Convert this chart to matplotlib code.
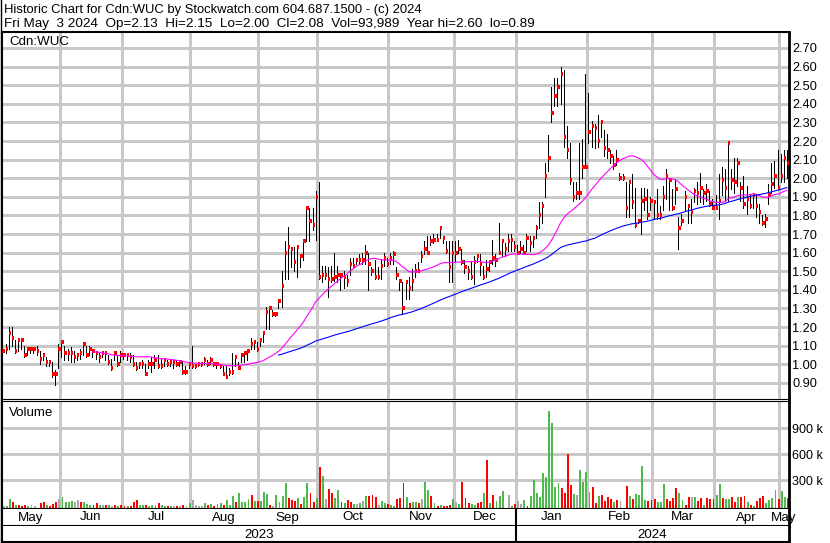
import numpy as np
import pandas as pd
import matplotlib
matplotlib.use("Agg")
import matplotlib.pyplot as plt
from matplotlib.lines import Line2D

plt.rcParams['font.family'] = ['Liberation Sans', 'DejaVu Sans']

# daily bars (May 2023 - May 2024)
high = [1.09, 1.11, 1.20, 1.20, 1.13, 1.13, 1.13, 1.10, 1.09, 1.09, 1.08, 1.10, 1.07, 1.06, 1.04, 1.02, 1.01, 0.97,
        1.11, 1.13, 1.10, 1.08, 1.09, 1.07, 1.06, 1.08, 1.11, 1.10, 1.10, 1.08, 1.07, 1.06, 1.07, 1.06, 1.05, 1.03, 1.06, 1.05, 1.07,
        1.06, 1.06, 1.06, 1.05, 1.01, 1.01, 1.02, 1.00, 1.02, 1.04, 1.05, 1.05, 1.03, 1.03, 1.02, 1.02, 1.02, 1.02, 1.01, 1.01, 0.99,
        1.01, 1.10, 1.00, 1.01, 1.01, 1.04, 1.02, 1.04, 1.01, 1.01, 1.00,
        0.99, 0.99, 0.98, 1.06, 1.05, 1.01, 1.06, 1.07, 1.08, 1.14, 1.13, 1.12, 1.14, 1.18, 1.31, 1.31, 1.29, 1.28, 1.35, 1.50,
        1.66, 1.74, 1.63, 1.63, 1.64, 1.59, 1.67, 1.85, 1.84, 1.84, 1.93,
        1.98, 1.53, 1.53, 1.52, 1.53, 1.60, 1.53, 1.49, 1.50, 1.48, 1.57, 1.57, 1.57, 1.59, 1.60, 1.64, 1.60, 1.52, 1.56, 1.52,
        1.56, 1.60, 1.57, 1.60, 1.61, 1.52, 1.46, 1.44, 1.44, 1.47, 1.51, 1.54, 1.55, 1.61, 1.66, 1.69, 1.69, 1.70, 1.70, 1.74,
        1.69, 1.66, 1.66, 1.66, 1.66, 1.67, 1.62, 1.56, 1.53, 1.55, 1.58, 1.59, 1.59, 1.53, 1.56, 1.56, 1.67, 1.59, 1.76,
        1.67, 1.65, 1.70, 1.70, 1.66, 1.64, 1.66, 1.64, 1.70, 1.69, 1.69, 1.75, 1.87, 1.87, 2.08, 2.23, 2.49, 2.54, 2.54, 2.60,
        2.58, 2.28, 2.19, 1.98, 1.98, 2.19, 2.21, 2.56, 2.46, 2.31, 2.29, 2.34, 2.31, 2.26, 2.24, 2.15, 2.12, 2.15, 2.03, 2.02,
        1.98, 1.99, 2.02, 1.95, 1.78, 1.95, 1.95, 1.94, 1.90, 1.87, 1.94, 1.85, 1.96, 2.05, 2.00, 1.94, 1.99, 1.79, 1.81, 1.93,
        1.86, 1.89, 1.95, 1.98, 2.03, 1.94, 1.97, 1.93, 1.89, 1.91, 2.02, 2.06, 2.05, 2.19, 2.05, 2.11, 2.11, 1.98, 2.01, 1.96,
        1.91, 1.92, 1.91, 1.86, 1.80, 1.81, 1.97, 2.08, 2.09, 2.15, 2.13, 2.15, 2.15]

low = [1.04, 1.06, 1.08, 1.10, 1.06, 1.07, 1.08, 1.04, 1.05, 1.06, 1.06, 1.05, 1.00, 1.02, 0.99, 0.99, 0.93, 0.89,
       0.98, 1.04, 1.02, 1.02, 1.01, 1.01, 1.02, 1.03, 1.05, 1.04, 1.05, 1.04, 1.03, 1.01, 1.04, 1.02, 1.00, 0.97, 1.02, 0.99, 1.01,
       1.03, 1.02, 1.01, 0.99, 0.97, 0.98, 0.98, 0.95, 0.98, 0.96, 0.98, 0.98, 0.98, 0.99, 0.99, 0.99, 0.98, 0.99, 0.99, 0.95, 0.95,
       0.98, 0.98, 0.98, 0.99, 0.99, 1.00, 0.99, 1.00, 0.99, 0.98, 0.98,
       0.94, 0.93, 0.94, 0.95, 0.99, 0.98, 1.01, 1.01, 1.02, 1.08, 1.08, 1.07, 1.10, 1.12, 1.19, 1.19, 1.26, 1.26, 1.30, 1.31,
       1.46, 1.46, 1.52, 1.50, 1.47, 1.52, 1.56, 1.66, 1.66, 1.72, 1.67,
       1.46, 1.44, 1.46, 1.36, 1.44, 1.45, 1.44, 1.40, 1.41, 1.42, 1.48, 1.53, 1.54, 1.54, 1.54, 1.54, 1.40, 1.48, 1.46, 1.46,
       1.46, 1.53, 1.53, 1.54, 1.54, 1.46, 1.40, 1.27, 1.35, 1.35, 1.40, 1.47, 1.50, 1.55, 1.59, 1.60, 1.64, 1.65, 1.66, 1.68,
       1.65, 1.60, 1.44, 1.44, 1.55, 1.60, 1.54, 1.49, 1.46, 1.46, 1.43, 1.55, 1.48, 1.46, 1.47, 1.50, 1.54, 1.53, 1.59,
       1.58, 1.58, 1.61, 1.61, 1.61, 1.59, 1.60, 1.59, 1.61, 1.61, 1.63, 1.68, 1.73, 1.76, 1.90, 2.04, 2.30, 2.39, 2.39, 2.40,
       2.17, 2.11, 1.97, 1.88, 1.89, 1.89, 2.00, 2.06, 2.19, 2.17, 2.16, 2.17, 2.22, 2.12, 2.11, 2.08, 2.05, 2.07, 1.99, 1.99,
       1.79, 1.79, 1.84, 1.74, 1.76, 1.70, 1.83, 1.78, 1.83, 1.78, 1.78, 1.78, 1.83, 1.89, 1.83, 1.83, 1.86, 1.62, 1.75, 1.83,
       1.76, 1.76, 1.87, 1.86, 1.87, 1.86, 1.88, 1.85, 1.84, 1.84, 1.78, 1.91, 1.88, 1.88, 1.94, 1.92, 1.96, 1.88, 1.84, 1.81,
       1.84, 1.84, 1.79, 1.76, 1.75, 1.74, 1.86, 1.92, 1.95, 1.94, 1.98, 1.98, 2.00]

close = [1.07, 1.08, 1.17, 1.14, 1.07, 1.13, 1.13, 1.05, 1.08, 1.08, 1.08, 1.07, 1.03, 1.05, 1.01, 1.01, 0.95, 0.95,
         1.08, 1.12, 1.06, 1.06, 1.06, 1.04, 1.05, 1.06, 1.11, 1.05, 1.08, 1.07, 1.06, 1.04, 1.06, 1.06, 1.01, 0.98, 1.06, 1.00, 1.05,
         1.05, 1.05, 1.04, 1.00, 0.98, 1.00, 1.00, 0.95, 1.00, 1.00, 1.02, 0.99, 0.99, 1.02, 1.00, 1.01, 1.01, 1.00, 1.01, 0.96, 0.96,
         1.00, 0.99, 0.99, 1.00, 1.00, 1.02, 1.00, 1.02, 1.00, 1.00, 0.99,
         0.95, 0.93, 0.96, 0.96, 1.04, 0.98, 1.05, 1.06, 1.07, 1.11, 1.12, 1.08, 1.13, 1.17, 1.28, 1.30, 1.27, 1.27, 1.34, 1.42,
         1.60, 1.63, 1.62, 1.55, 1.63, 1.58, 1.66, 1.84, 1.77, 1.75, 1.90,
         1.47, 1.48, 1.48, 1.46, 1.46, 1.47, 1.48, 1.48, 1.47, 1.45, 1.54, 1.53, 1.56, 1.56, 1.56, 1.60, 1.54, 1.50, 1.47, 1.47,
         1.53, 1.57, 1.54, 1.57, 1.59, 1.48, 1.45, 1.30, 1.44, 1.41, 1.45, 1.50, 1.50, 1.58, 1.62, 1.60, 1.66, 1.67, 1.67, 1.73,
         1.68, 1.61, 1.52, 1.60, 1.60, 1.62, 1.55, 1.52, 1.50, 1.47, 1.55, 1.58, 1.54, 1.47, 1.51, 1.55, 1.57, 1.56, 1.60,
         1.66, 1.62, 1.66, 1.67, 1.63, 1.60, 1.62, 1.60, 1.68, 1.65, 1.68, 1.73, 1.80, 1.85, 2.01, 2.11, 2.35, 2.44, 2.49, 2.56,
         2.22, 2.15, 1.99, 1.90, 1.92, 1.92, 2.06, 2.06, 2.25, 2.28, 2.27, 2.20, 2.30, 2.16, 2.15, 2.12, 2.07, 2.10, 2.00, 2.00,
         1.84, 1.98, 1.87, 1.75, 1.77, 1.88, 1.89, 1.80, 1.88, 1.87, 1.80, 1.80, 1.90, 2.01, 1.99, 1.84, 1.94, 1.73, 1.77, 1.90,
         1.85, 1.82, 1.93, 1.92, 1.95, 1.92, 1.93, 1.86, 1.84, 1.84, 1.88, 1.99, 1.95, 2.19, 1.99, 1.98, 2.08, 1.95, 1.86, 1.89,
         1.85, 1.91, 1.85, 1.82, 1.76, 1.78, 1.91, 1.97, 2.01, 1.95, 2.01, 2.11, 2.08]

# volume in thousands of shares, and bar colour (g up, r down, k unchanged)
volume_k = [8, 4, 89, 46, 19, 19, 4, 19, 4, 19, 4, 0, 39, 54, 12, 4, 31, 46, 89, 112,
            54, 46, 66, 46, 77, 46, 50, 27, 19, 19, 43, 12, 19, 12, 19, 4, 19, 4, 19, 4,
            8, 4, 50, 77, 19, 12, 19, 4, 12, 12, 39, 12, 4, 4, 8, 8, 8, 4, 19, 8,
            39, 77, 19, 8, 4, 39, 19, 31, 4, 27, 39, 19, 70, 19, 124, 54, 159, 54, 54, 89,
            135, 66, 58, 66, 170, 147, 19, 4, 135, 54, 124, 275, 93, 70, 66, 97, 31, 112, 275, 159,
            54, 101, 453, 356, 89, 205, 159, 101, 194, 54, 43, 77, 54, 31, 31, 43, 66, 124, 124, 135,
            112, 19, 66, 43, 31, 19, 8, 89, 101, 275, 112, 43, 54, 54, 43,
            89, 286, 194, 124, 43, 4, 19, 8, 4, 19, 89, 54, 31, 286, 101, 43, 31, 19, 43, 54,
            159, 542, 43, 135, 66, 124, 182, 0, 135, 8, 31, 66, 31, 77, 4, 124, 310, 159, 112, 391,
            344, 1099, 960, 228, 275, 217, 159, 600, 252, 147, 135, 426, 286, 402, 170, 228, 43, 124, 135, 66,
            112, 89, 54, 77, 66, 0, 240, 124, 89, 147, 135, 472, 77, 66, 77, 89, 54, 54, 263, 89,
            66, 101, 217, 159, 77, 19, 112, 112, 112, 66, 101, 19, 101, 89, 89, 135, 263, 101, 89, 89,
            112, 54, 112, 112, 124, 54, 19, 8, 66, 101, 124, 43, 77, 101, 194, 89, 182, 112, 94]

vol_colour = list("kggrgrrrgk" "kkrrgrrrkg" "gggkkrgggr" "rgkrgkrgrr" "grrrggrggg"
                  "rggrgkrkrk" "gkkkkgrgrg" "grgggrgggg" "rgrgggrkgg" "ggrrrgrggr"
                  "rgrgkrrggr" "grrgkgkgrr" "rkggrggrrr" "grggr"
                  "kggrgrgrrr" "gkgrrrggrr" "grgrgggkkg" "rkkgrggggg" "gggggrrrrg"
                  "kggggrrgrr" "rrgrkkrgrg" "gggrrrgggr" "rrrggrrkgr" "rgrrrggrgg"
                  "rrgrrgrgrr" "rggggrggr")

month_names = ['May', 'Jun', 'Jul', 'Aug', 'Sep', 'Oct', 'Nov', 'Dec', 'Jan', 'Feb', 'Mar', 'Apr', 'May']
month_start = [0, 19, 39, 61, 83, 102, 125, 146, 166, 189, 210, 230, 251]   # first bar of each month
year_names = ['2023', '2024']
year_start = [0, 166]
price_ticks = [0.90, 1.00, 1.10, 1.20, 1.30, 1.40, 1.50, 1.60, 1.70, 1.80,
               1.90, 2.00, 2.10, 2.20, 2.30, 2.40, 2.50, 2.60, 2.70]
vol_ticks = [300, 600, 900]
vol_labels = ['300 k', '600 k', '900 k']

W, H = 830, 543
GRID = '#c8c8c8'
fig = plt.figure(figsize=(W / 100, H / 100), dpi=100)


def px_box(x0, y0, x1, y1):                     # pixel box, origin top-left
    return [x0 / W, 1 - y1 / H, (x1 - x0) / W, (y1 - y0) / H]


ax_p = fig.add_axes(px_box(2, 32, 789, 399))
ax_v = fig.add_axes(px_box(2, 401, 789, 509))
ax_m = fig.add_axes(px_box(2, 509, 789, 526))
ax_y = fig.add_axes(px_box(2, 526, 789, 542))

n = len(close)
x = np.arange(n)
xlim = (-0.16, 253.7)
bounds = [s - 0.5 for s in month_start[1:]]

# ---- price panel ----
for t in price_ticks:
    ax_p.axhline(t, color=GRID, lw=0.75, zorder=0, antialiased=False)
for b in bounds:
    ax_p.axvline(b, color=GRID, lw=0.75, zorder=0, antialiased=False)
ax_p.vlines(x, low, high, color='black', lw=0.72, zorder=2, antialiased=False)
ax_p.hlines(close, x, x + 0.8, color='red', lw=1.5, zorder=3, antialiased=False)

cs = pd.Series(close)
ax_p.plot(x, cs.rolling(30).mean(), color='#ff00ff', lw=0.8, zorder=4)
ax_p.plot(x, cs.rolling(90).mean(), color='#0000ff', lw=0.8, zorder=4)

ax_p.set_xlim(xlim)
ax_p.set_ylim(0.813, 2.786)
ax_p.set_xticks([])
ax_p.yaxis.tick_right()
ax_p.set_yticks(price_ticks)
ax_p.set_yticklabels([f'{t:.2f}' for t in price_ticks])
ax_p.tick_params(axis='y', length=0, pad=2.5, labelsize=9.2)
ax_p.text(7 / 787, 1 - 10 / 367, 'Cdn:WUC', transform=ax_p.transAxes,
          ha='left', va='center', fontsize=9.6)

# ---- volume panel ----
vmin = -29
for t in vol_ticks:
    ax_v.axhline(t, color=GRID, lw=0.75, zorder=0, antialiased=False)
for b in bounds:
    ax_v.axvline(b, color=GRID, lw=0.75, zorder=0, antialiased=False)
cmap = {'g': '#4cbb4c', 'r': '#ff0000', 'k': '#a8a8a8'}
vol = np.array(volume_k, dtype=float)
has = vol > 0
ax_v.bar(x[has] + 0.35, vol[has] - vmin, bottom=vmin, width=0.62,
         color=[cmap[c] for c, h in zip(vol_colour, has) if h], zorder=2, antialiased=False)
ax_v.set_xlim(xlim)
ax_v.set_ylim(vmin, 1217)
ax_v.set_xticks([])
ax_v.yaxis.tick_right()
ax_v.set_yticks(vol_ticks)
ax_v.set_yticklabels(vol_labels)
ax_v.tick_params(axis='y', length=0, pad=2.5, labelsize=9.0)
ax_v.text(7 / 787, 1 - 12 / 108, 'Volume', transform=ax_v.transAxes,
          ha='left', va='center', fontsize=9.6)

# ---- month / year rows ----
edges = [xlim[0]] + bounds + [xlim[1]]
for name, a, b in zip(month_names, edges[:-1], edges[1:]):
    ax_m.text((a + b) / 2, 0.5, name, ha='center', va='center', fontsize=9.6)
yedges = [xlim[0], year_start[1] - 0.5, xlim[1]]
for name, a, b in zip(year_names, yedges[:-1], yedges[1:]):
    ax_y.text((a + b) / 2, 0.45, name, ha='center', va='center', fontsize=9.6)
for a in (ax_m, ax_y):
    a.set_xlim(xlim)
    a.set_ylim(0, 1)
    a.set_xticks([])
    a.set_yticks([])
    a.axvline(year_start[1] - 0.5, color='black', lw=1.5)

# ---- frames ----
for a in (ax_p, ax_v, ax_m, ax_y):
    for s in a.spines.values():
        s.set_color('black')
    a.spines['left'].set_linewidth(1.5)
    a.spines['right'].set_linewidth(2.0)
ax_p.spines['top'].set_linewidth(1.5)
ax_p.spines['bottom'].set_linewidth(0.8)
ax_v.spines['top'].set_linewidth(0.8)
ax_v.spines['bottom'].set_linewidth(1.5)
ax_m.spines['top'].set_visible(False)
ax_m.spines['bottom'].set_linewidth(1.5)
ax_y.spines['top'].set_visible(False)
ax_y.spines['bottom'].set_linewidth(1.5)

fig.add_artist(Line2D([0.6 / W, 0.6 / W], [0, 1], color='black', lw=1.0))

fig.text(4 / W, 1 - 10 / H, 'Historic Chart for Cdn:WUC by Stockwatch.com 604.687.1500 - (c) 2024',
         ha='left', va='center', fontsize=9.4)
fig.text(4 / W, 1 - 24 / H,
         'Fri May  3 2024  Op=2.13  Hi=2.15  Lo=2.00  Cl=2.08  Vol=93,989  Year hi=2.60  lo=0.89',
         ha='left', va='center', fontsize=9.7)

fig.savefig('out.png', dpi=100)
